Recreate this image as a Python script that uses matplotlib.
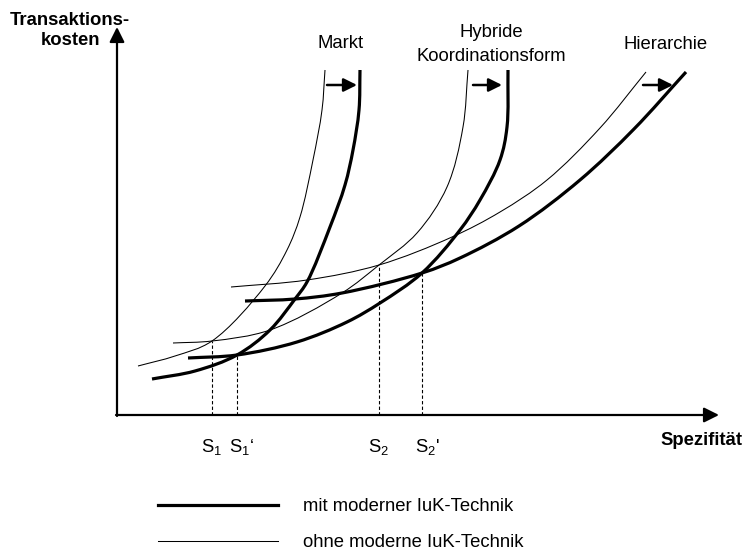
import matplotlib
matplotlib.use("Agg")
import numpy as np
import matplotlib.pyplot as plt
from matplotlib.path import Path
from matplotlib.patches import PathPatch
from matplotlib.lines import Line2D

plt.rcParams['font.family'] = ['Liberation Sans', 'DejaVu Sans']
plt.rcParams['mathtext.fontset'] = 'custom'
plt.rcParams['mathtext.rm'] = 'Liberation Sans'
plt.rcParams['mathtext.it'] = 'Liberation Sans:italic'

# Transaktionskosten (y) over Spezifität (x) for each Koordinationsform,
# thin = ohne moderne IuK-Technik, thick = mit moderner IuK-Technik
markt_ohne_x = [21, 58, 95, 148, 170, 183, 196, 205, 208]
markt_ohne_y = [49, 59, 74, 129, 165, 198, 255, 305, 345]
markt_mit_x = [35, 78, 120, 153, 178, 190, 213, 228, 236, 242, 243]
markt_mit_y = [36, 44, 60, 85, 116, 133, 188, 230, 265, 305, 345]

hybrid_ohne_x = [56, 95, 153, 225, 262, 300, 330, 346, 351]
hybrid_ohne_y = [72, 74, 85, 122, 150, 182, 228, 288, 345]
hybrid_mit_x = [71, 120, 180, 230, 263, 305, 343, 363, 383, 390, 391]
hybrid_mit_y = [57, 60, 73, 93, 112, 142, 185, 215, 255, 288, 345]

hier_ohne_x = [114, 190, 262, 335, 383, 430, 483, 529]
hier_ohne_y = [128, 135, 150, 178, 203, 235, 287, 343]
hier_mit_x = [128, 178, 225, 305, 343, 402, 463, 517, 569]
hier_mit_y = [114, 116, 122, 142, 157, 189, 235, 286, 343]

# Schnittpunkte (Grenzen der Vorteilhaftigkeit)
s_x = [95, 120, 262, 305]
s_y = [74, 60, 150, 142]
s_labels = [r'S$_1$', r'S$_1$‘', r'S$_2$', r"S$_2$'"]

THIN, THICK = 0.75, 2.3
FS = 13.3


def smooth_path(xs, ys, alpha=0.5):
    """Centripetal Catmull-Rom curve through the points, as a Bezier path."""
    p = np.column_stack([xs, ys]).astype(float)
    ext = np.vstack([2 * p[0] - p[1], p, 2 * p[-1] - p[-2]])
    verts = [p[0]]
    codes = [Path.MOVETO]
    for i in range(1, len(ext) - 2):
        p0, p1, p2, p3 = ext[i - 1], ext[i], ext[i + 1], ext[i + 2]
        d1 = np.linalg.norm(p1 - p0) ** alpha
        d2 = np.linalg.norm(p2 - p1) ** alpha
        d3 = np.linalg.norm(p3 - p2) ** alpha
        b1 = (d1 ** 2 * p2 - d2 ** 2 * p0
              + (2 * d1 ** 2 + 3 * d1 * d2 + d2 ** 2) * p1) / (3 * d1 * (d1 + d2))
        b2 = (d3 ** 2 * p1 - d2 ** 2 * p3
              + (2 * d3 ** 2 + 3 * d3 * d2 + d2 ** 2) * p2) / (3 * d3 * (d3 + d2))
        verts += [b1, b2, p2]
        codes += [Path.CURVE4] * 3
    return Path(verts, codes)


def draw_curve(ax, xs, ys, lw):
    ax.add_patch(PathPatch(smooth_path(xs, ys), fill=False, lw=lw,
                           edgecolor='black', capstyle='butt', joinstyle='round'))


fig = plt.figure(figsize=(7.44, 5.54), dpi=100)
ax = fig.add_axes([0, 0, 1, 1])
ax.set_xlim(-117, 627)
ax.set_ylim(-139, 415)
ax.axis('off')

# axes with arrow heads
axis_style = dict(arrowstyle='-|>,head_length=0.9,head_width=0.45', lw=1.6,
                  color='black', shrinkA=0, shrinkB=0, mutation_scale=10)
ax.annotate('', xy=(602, 0), xytext=(-1, 0), arrowprops=axis_style)
ax.annotate('', xy=(0, 388), xytext=(0, -1), arrowprops=axis_style)

for xs, ys in [(markt_ohne_x, markt_ohne_y), (hybrid_ohne_x, hybrid_ohne_y),
               (hier_ohne_x, hier_ohne_y)]:
    draw_curve(ax, xs, ys, THIN)
for xs, ys in [(markt_mit_x, markt_mit_y), (hybrid_mit_x, hybrid_mit_y),
               (hier_mit_x, hier_mit_y)]:
    draw_curve(ax, xs, ys, THICK)

# shift arrows between the curve pairs
shift_style = dict(arrowstyle='-|>,head_length=1.0,head_width=0.5', lw=1.8,
                   color='black', shrinkA=0, shrinkB=0, mutation_scale=8)
for x0, x1 in [(210, 240), (356, 385), (526, 556)]:
    ax.annotate('', xy=(x1, 330), xytext=(x0, 330), arrowprops=shift_style)

# dashed drop lines and S labels
for x, y, lab in zip(s_x, s_y, s_labels):
    ax.plot([x, x], [0, y], color='black', lw=0.8, ls=(0, (3, 2)))
    dx = 5 if ("'" in lab or "‘" in lab) else 0
    ax.annotate(lab, xy=(x, 0), xytext=(dx, -37), textcoords='offset pixels',
                ha='center', va='baseline', fontsize=FS)

# curve names
ax.text(224, 367, 'Markt', ha='center', va='baseline', fontsize=FS)
ax.text(374, 378, 'Hybride', ha='center', va='baseline', fontsize=FS)
ax.text(374, 354, 'Koordinationsform', ha='center', va='baseline', fontsize=FS)
ax.text(549, 366, 'Hierarchie', ha='center', va='baseline', fontsize=FS)

# axis titles
ax.text(-47, 390, 'Transaktions-', ha='center', va='baseline',
        fontsize=FS, fontweight='bold')
ax.text(-47, 370, 'kosten', ha='center', va='baseline',
        fontsize=FS, fontweight='bold')
ax.text(625, -30, 'Spezifität', ha='right', va='baseline', fontsize=FS,
        fontweight='bold')

handles = [Line2D([], [], color='black', lw=THICK),
           Line2D([], [], color='black', lw=THIN)]
fig.legend(handles, ['mit moderner IuK-Technik', 'ohne moderne IuK-Technik'],
           loc='upper left', bbox_to_anchor=(158 / 744, 1 - 498 / 554),
           frameon=False, fontsize=FS, handlelength=6.5, handletextpad=1.35,
           labelspacing=1.05, borderpad=0, borderaxespad=0)

fig.savefig('out.png', dpi=100)
